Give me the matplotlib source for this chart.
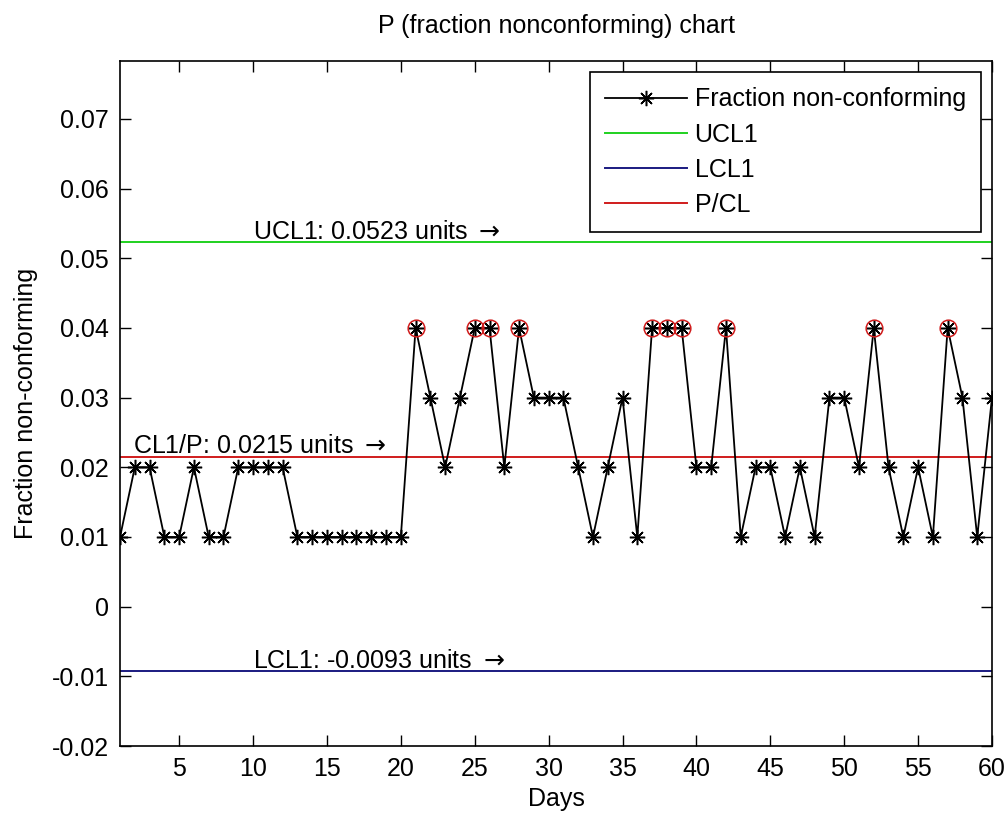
"""P chart (fraction nonconforming) with control limits, MATLAB-style look."""

import matplotlib
matplotlib.use("Agg")
import matplotlib.pyplot as plt
import numpy as np

plt.rcParams["font.family"] = ["Liberation Sans", "DejaVu Sans"]

# data
days = np.arange(1, 61)
fraction = [0.01, 0.02, 0.02, 0.01, 0.01, 0.02, 0.01, 0.01, 0.02, 0.02,
            0.02, 0.02, 0.01, 0.01, 0.01, 0.01, 0.01, 0.01, 0.01, 0.01,
            0.04, 0.03, 0.02, 0.03, 0.04, 0.04, 0.02, 0.04, 0.03, 0.03,
            0.03, 0.02, 0.01, 0.02, 0.03, 0.01, 0.04, 0.04, 0.04, 0.02,
            0.02, 0.04, 0.01, 0.02, 0.02, 0.01, 0.02, 0.01, 0.03, 0.03,
            0.02, 0.04, 0.02, 0.01, 0.02, 0.01, 0.04, 0.03, 0.01, 0.03]
ucl = 0.0523
cl = 0.0215
lcl = -0.0093
flag_level = 0.04  # points circled in red

yticks = [-0.02, -0.01, 0.0, 0.01, 0.02, 0.03, 0.04, 0.05, 0.06, 0.07]
ytick_labels = ["-0.02", "-0.01", "0", "0.01", "0.02", "0.03", "0.04",
                "0.05", "0.06", "0.07"]
xticks = [5, 10, 15, 20, 25, 30, 35, 40, 45, 50, 55, 60]

FS = 18
GREEN = "#1fd11f"
BLUE = "#1a1a80"
RED = "#d01c1c"
ARROW = r"$\rightarrow$"

fig = plt.figure(figsize=(10.07, 8.14), dpi=100)
ax = fig.add_axes([0.1192, 0.0835, 0.8659, 0.8415])

frac = np.array(fraction)
star = (8, 2, 0)
ax.plot(days, frac, color="black", linewidth=1.3, marker=star,
        markersize=11, markeredgewidth=1.1, label="Fraction non-conforming",
        zorder=3)
ax.axhline(ucl, color=GREEN, linewidth=1.4, label="UCL1")
ax.axhline(lcl, color=BLUE, linewidth=1.4, label="LCL1")
ax.axhline(cl, color=RED, linewidth=1.4, label="P/CL")

hit = frac >= flag_level
ax.plot(days[hit], frac[hit], linestyle="none", marker="o", markersize=12,
        markerfacecolor="none", markeredgecolor=RED, markeredgewidth=1.1,
        zorder=4)

ax.text(10, ucl + 0.0005, f"UCL1: {ucl} units {ARROW}", fontsize=FS,
        va="baseline", ha="left")
ax.text(1.9, cl + 0.0005, f"CL1/P: {cl} units {ARROW}", fontsize=FS,
        va="baseline", ha="left")
ax.text(10, lcl + 0.0005, f"LCL1: {lcl} units {ARROW}", fontsize=FS,
        va="baseline", ha="left")

ax.set_xlim(1, 60)
ax.set_ylim(-0.02, 0.0783)
ax.set_xticks(xticks)
ax.set_yticks(yticks)
ax.set_yticklabels(ytick_labels)
ax.tick_params(direction="in", length=8, width=1, labelsize=FS,
               top=True, right=True, pad=8)
for spine in ax.spines.values():
    spine.set_linewidth(1.2)

ax.set_xlabel("Days", fontsize=FS)
ax.set_ylabel("Fraction non-conforming", fontsize=FS)
ax.xaxis.set_label_coords(0.5, -0.060)
ax.yaxis.set_label_coords(-0.094, 0.5)
ax.set_title("P (fraction nonconforming) chart", fontsize=FS, pad=20)

leg = ax.legend(loc="upper right", fontsize=FS, frameon=True, fancybox=False,
                edgecolor="black", handlelength=3.3, handletextpad=0.3,
                labelspacing=0.45, borderpad=0.6, borderaxespad=0.45,
                framealpha=1)
leg.get_frame().set_linewidth(1.2)

fig.savefig("out.png", dpi=100, facecolor="white")
plt.close(fig)
